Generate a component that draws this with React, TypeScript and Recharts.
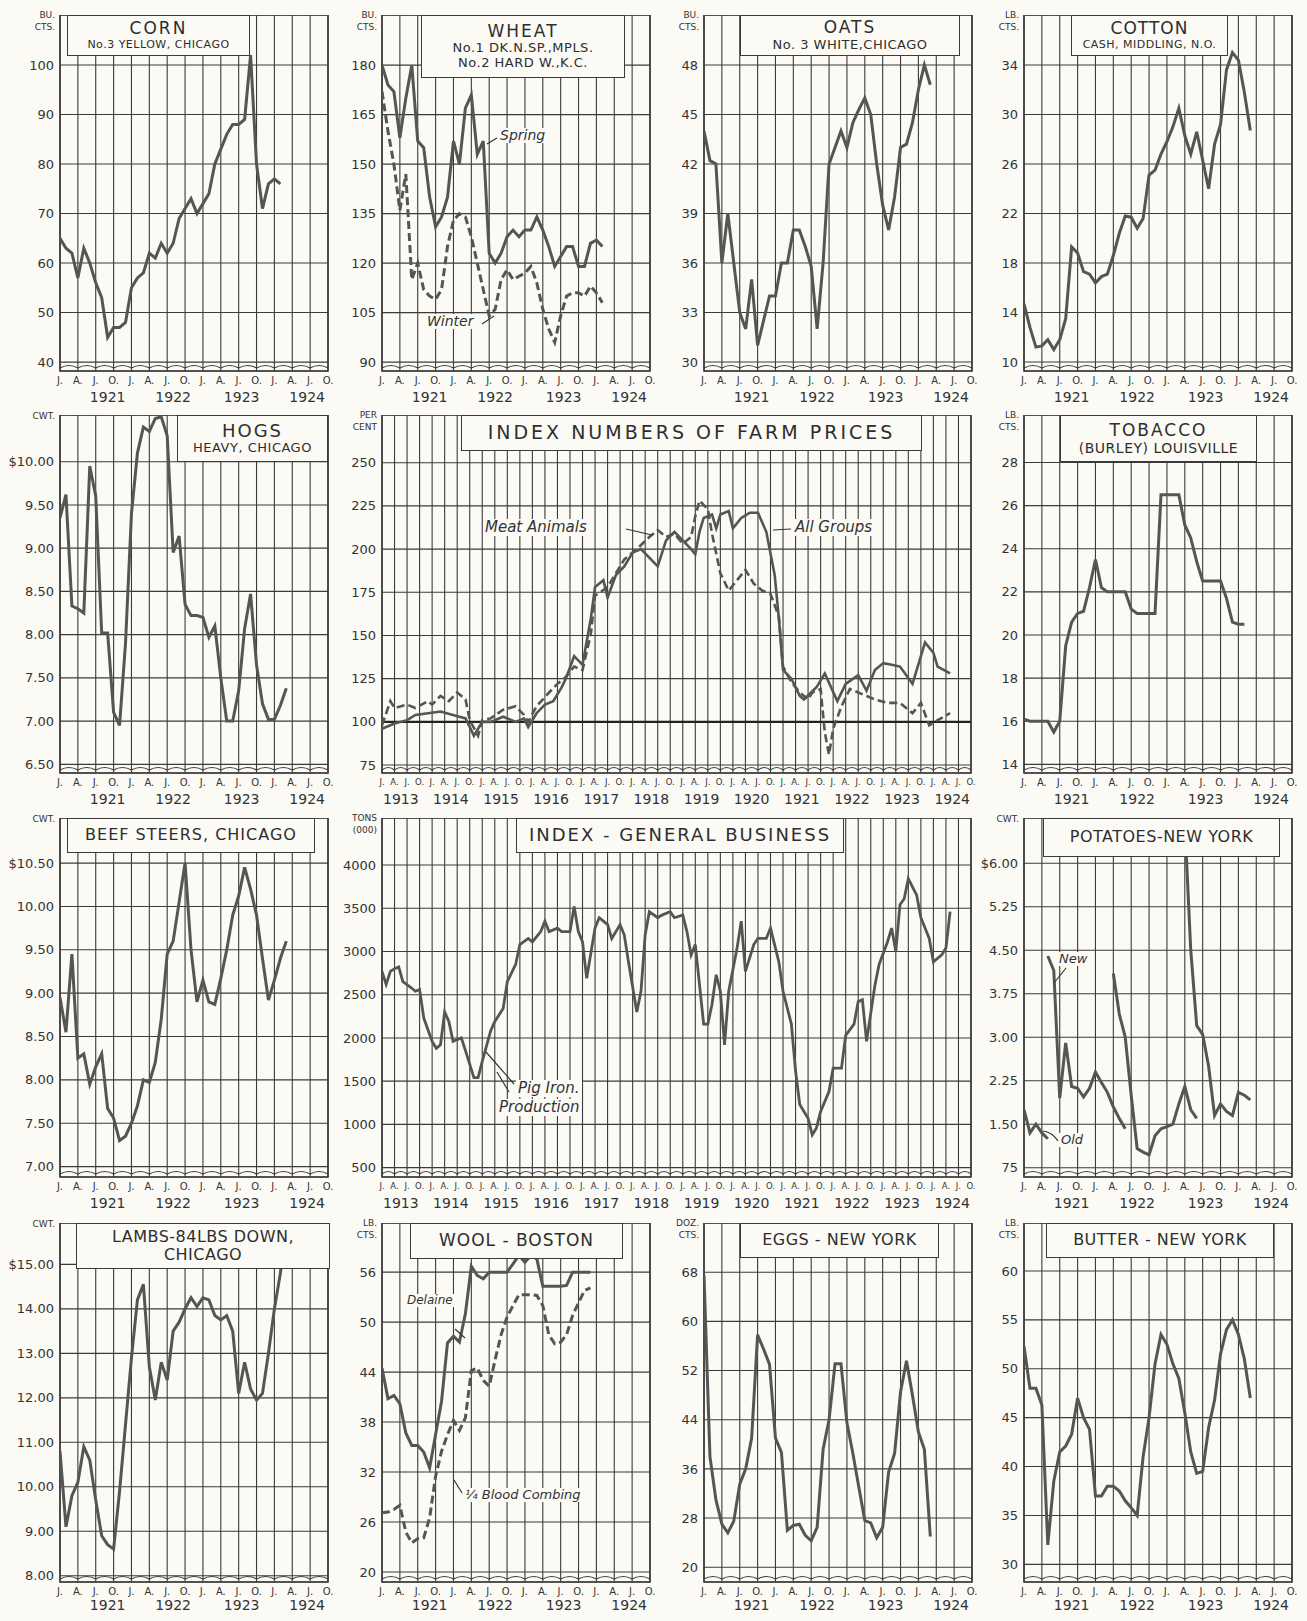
import React from "react";
import { LineChart, Line, XAxis, YAxis, CartesianGrid, ReferenceArea, ReferenceLine } from "recharts";

// ---- shared axis labels ----
const MONTH_LETTERS = ["J.", "A.", "J.", "O."];
const SHORT_YEARS = ["1921", "1922", "1923", "1924"];
const SHORT_YEAR_POS = [8, 19, 30.5, 41.5];
const LONG_YEARS = ["1913", "1914", "1915", "1916", "1917", "1918", "1919", "1920", "1921", "1922", "1923", "1924"];
const LONG_YEAR_POS = [4.5, 16.5, 28.5, 40.5, 52.5, 64.5, 76.5, 88.5, 100.5, 112.5, 124.5, 136.5];

// ---- small panels: monthly values from Jan 1921 ----
const cornValues = [65, 63, 62, 57, 63, 60, 56, 53, 45, 47, 47, 48, 55, 57, 58, 62, 61, 64, 62, 64, 69, 71, 73, 70, 72, 74, 80, 83, 86, 88, 88, 89, 102, 80, 71, 76, 77, 76];
const cornTicks = [40, 50, 60, 70, 80, 90, 100];
const cornLabels = ["40", "50", "60", "70", "80", "90", "100"];

const wheatSpring = [180, 174, 172, 158, 170, 180, 157, 155, 140, 131, 134, 140, 157, 150, 167, 171, 153, 157, 123, 120, 123, 128, 130, 128, 130, 130, 134, 130, 125, 119, 122, 125, 125, 119, 119, 126, 127, 125];
const wheatWinter = [172, 160, 150, 136, 147, 115, 120, 112, 110, 109, 112, 125, 133, 135, 134, 128, 120, 112, 104, 106, 115, 118, 115, 116, 117, 119, 114, 106, 100, 96, 104, 110, 111, 111, 110, 113, 111, 108];
const wheatTicks = [90, 105, 120, 135, 150, 165, 180];
const wheatLabels = ["90", "105", "120", "135", "150", "165", "180"];

const oatsValues = [44, 42.2, 42, 36, 39, 36, 33, 32, 35, 31, 32.5, 34, 34, 36, 36, 38, 38, 37, 35.8, 32, 36, 42, 43, 44, 43, 44.5, 45.3, 46, 45, 42, 39.5, 38, 40, 43, 43.2, 44.5, 46.5, 48, 46.8];
const oatsTicks = [30, 33, 36, 39, 42, 45, 48];
const oatsLabels = ["30", "33", "36", "39", "42", "45", "48"];

const cottonValues = [14.7, 12.8, 11.2, 11.3, 11.8, 11.0, 11.8, 13.5, 19.3, 18.8, 17.3, 17.1, 16.4, 16.9, 17.1, 18.6, 20.4, 21.8, 21.7, 20.8, 21.6, 25.1, 25.5, 26.8, 27.8, 29, 30.5, 28.3, 26.8, 28.6, 26.3, 24, 27.6, 29.2, 33.6, 35, 34.4, 31.8, 28.7];
const cottonTicks = [10, 14, 18, 22, 26, 30, 34];
const cottonLabels = ["10", "14", "18", "22", "26", "30", "34"];

const hogsValues = [9.35, 9.62, 8.33, 8.3, 8.25, 9.95, 9.6, 8.02, 8.02, 7.1, 6.95, 7.9, 9.4, 10.1, 10.4, 10.35, 10.5, 10.52, 10.3, 8.95, 9.14, 8.35, 8.22, 8.22, 8.2, 7.97, 8.1, 7.5, 7.0, 7.0, 7.35, 8.07, 8.47, 7.65, 7.2, 7.02, 7.02, 7.18, 7.38];
const hogsTicks = [6.5, 7, 7.5, 8, 8.5, 9, 9.5, 10];
const hogsLabels = ["6.50", "7.00", "7.50", "8.00", "8.50", "9.00", "9.50", "$10.00"];

const tobaccoValues = [16.1, 16, 16, 16, 16, 15.5, 16, 19.5, 20.6, 21, 21.1, 22.2, 23.5, 22.2, 22, 22, 22, 22, 21.2, 21, 21, 21, 21, 26.5, 26.5, 26.5, 26.5, 25.1, 24.5, 23.4, 22.5, 22.5, 22.5, 22.5, 21.7, 20.6, 20.5, 20.5];
const tobaccoTicks = [14, 16, 18, 20, 22, 24, 26, 28];
const tobaccoLabels = ["14", "16", "18", "20", "22", "24", "26", "28"];

const beefValues = [8.95, 8.55, 9.45, 8.25, 8.3, 7.95, 8.15, 8.3, 7.67, 7.56, 7.3, 7.35, 7.5, 7.7, 8.0, 7.97, 8.2, 8.7, 9.45, 9.6, 10.05, 10.5, 9.5, 8.9, 9.15, 8.9, 8.87, 9.17, 9.5, 9.9, 10.12, 10.45, 10.2, 9.9, 9.4, 8.92, 9.15, 9.4, 9.6];
const beefTicks = [7, 7.5, 8, 8.5, 9, 9.5, 10, 10.5];
const beefLabels = ["7.00", "7.50", "8.00", "8.50", "9.00", "9.50", "10.00", "$10.50"];

const potatoOld = [1.75, 1.35, 1.5, 1.35, 1.25];
const potatoNew1921 = [4.4, 4.15, 1.95, 2.9, 2.15, 2.12, 1.97, 2.12, 2.4, 2.22, 2.05, 1.8, 1.6, 1.42];
const potatoNew1922 = [4.1, 3.4, 3.0, 2.0, 1.08, 1.02, 0.97, 1.3, 1.42, 1.46, 1.5, 1.85, 2.15, 1.75, 1.6];
const potatoNew1923 = [6.7, 4.5, 3.2, 3.05, 2.5, 1.65, 1.85, 1.72, 1.65, 2.05, 2.0, 1.92];
const potatoTicks = [0.75, 1.5, 2.25, 3, 3.75, 4.5, 5.25, 6];
const potatoLabels = ["75", "1.50", "2.25", "3.00", "3.75", "4.50", "5.25", "$6.00"];

const lambsValues = [10.8, 9.1, 9.8, 10.1, 10.9, 10.6, 9.7, 8.9, 8.7, 8.6, 9.9, 11.4, 12.9, 14.2, 14.55, 12.7, 11.95, 12.8, 12.4, 13.5, 13.7, 14.0, 14.25, 14.05, 14.25, 14.2, 13.85, 13.75, 13.85, 13.5, 12.1, 12.8, 12.2, 11.95, 12.1, 13.0, 14.0, 14.8, 15.9];
const lambsTicks = [8, 9, 10, 11, 12, 13, 14, 15];
const lambsLabels = ["8.00", "9.00", "10.00", "11.00", "12.00", "13.00", "14.00", "$15.00"];

const woolDelaine = [44.5, 40.8, 41.2, 40.2, 36.7, 35.2, 35.2, 34.4, 32.5, 36.5, 40.5, 47.5, 48.3, 47.6, 51.0, 56.7, 55.6, 55.2, 56, 56, 56, 56, 57, 58, 57.2, 58, 57.6, 54.3, 54.3, 54.3, 54.3, 54.4, 56, 56, 56, 56];
const woolBlood = [27.1, 27.2, 27.5, 28.0, 24.8, 23.5, 24, 24.1, 26.5, 31.5, 34.5, 36.5, 38.2, 37, 38.5, 44.2, 44.5, 43, 42.3, 45.5, 48.5, 50.6, 52, 53.3, 53.3, 53.3, 53.2, 52, 48.5, 47.4, 47.6, 48.5, 50.8, 52.3, 53.8, 54.1];
const woolTicks = [20, 26, 32, 38, 44, 50, 56];
const woolLabels = ["20", "26", "32", "38", "44", "50", "56"];

const eggsValues = [67.5, 38, 31, 27, 25.6, 27.5, 33.5, 36, 41, 57.8, 55.5, 53, 41, 38.7, 26, 26.8, 27, 25.2, 24.3, 26.5, 39.2, 44, 53.1, 53.1, 43.5, 38.5, 33, 27.6, 27.2, 24.8, 26.5, 35.5, 38.5, 48.5, 53.6, 48, 42, 39.2, 25];
const eggsTicks = [20, 28, 36, 44, 52, 60, 68];
const eggsLabels = ["20", "28", "36", "44", "52", "60", "68"];

const butterValues = [52.3, 48, 48, 46.3, 32, 38.5, 41.5, 42.1, 43.3, 47, 45, 43.8, 37, 37, 38, 38, 37.5, 36.5, 35.8, 35, 41, 45, 50.5, 53.5, 52.5, 50.5, 49, 45.5, 41.5, 39.3, 39.5, 44, 46.8, 51.5, 54, 55, 53.5, 51, 47];
const butterTicks = [30, 35, 40, 45, 50, 55, 60];
const butterLabels = ["30", "35", "40", "45", "50", "55", "60"];

// ---- big panels: month index from Jan 1913 ----
const allGroupsMonths = [0, 3, 6, 8, 11, 14, 17, 20, 21, 22, 24, 26, 29, 32, 34, 35, 37, 39, 41, 43, 44, 46, 48, 50, 51, 53, 54, 56, 58, 60, 62, 66, 68, 70, 72, 74, 75, 76, 77, 79, 80, 81, 83, 84, 86, 88, 90, 92, 94, 95, 96, 98, 100, 101, 104, 106, 109, 111, 114, 116, 118, 120, 122, 124, 127, 129, 130, 132, 133, 136];
const allGroupsValues = [96, 99, 101, 104, 105, 106, 104, 102, 97, 92, 100, 100, 103, 100, 102, 97, 105, 110, 112, 120, 125, 138, 133, 160, 178, 182, 172, 185, 190, 198, 200, 190, 205, 210, 205, 200, 197, 210, 218, 220, 212, 220, 222, 212, 218, 221, 221, 210, 185, 160, 130, 125, 115, 113, 120, 128, 112, 122, 127, 118, 130, 134, 133, 132, 122, 138, 146, 140, 132, 128];
const meatMonths = [0, 2, 3, 6, 8, 11, 12, 14, 16, 18, 20, 21, 23, 24, 26, 29, 32, 34, 35, 37, 40, 42, 44, 46, 48, 50, 51, 54, 56, 58, 61, 64, 66, 68, 70, 72, 74, 75, 76, 78, 79, 81, 83, 85, 87, 89, 91, 93, 95, 96, 98, 100, 102, 103, 105, 106, 107, 108, 110, 112, 114, 116, 118, 121, 124, 126, 127, 129, 131, 133, 136];
const meatValues = [98, 112, 108, 110, 108, 112, 110, 115, 112, 117, 113, 101, 92, 101, 102, 107, 109, 104, 100, 109, 117, 122, 126, 132, 130, 151, 173, 178, 186, 194, 200, 207, 211, 207, 209, 203, 207, 219, 228, 223, 209, 186, 176, 182, 188, 180, 176, 174, 161, 132, 123, 117, 113, 117, 119, 94, 81, 96, 109, 119, 117, 115, 113, 111, 111, 107, 105, 111, 98, 101, 105];
const farmTicks = [75, 100, 125, 150, 175, 200, 225, 250];
const farmLabels = ["75", "100", "125", "150", "175", "200", "225", "250"];

const pigIronMonths = [0, 1, 2, 3, 4, 5, 7, 8, 9, 10, 12, 13, 14, 15, 16, 17, 19, 20, 22, 23, 24, 26, 27, 29, 30, 32, 33, 35, 36, 38, 39, 40, 42, 43, 45, 46, 47, 48, 49, 51, 52, 53, 54, 55, 57, 58, 59, 61, 62, 63, 64, 66, 67, 69, 70, 72, 73, 74, 75, 76, 77, 78, 79, 80, 81, 82, 83, 85, 86, 87, 89, 90, 92, 93, 95, 96, 98, 99, 100, 102, 103, 104, 105, 107, 108, 110, 111, 113, 114, 115, 116, 118, 119, 121, 122, 123, 124, 125, 126, 128, 129, 131, 132, 134, 135, 136];
const pigIronValues = [2770, 2620, 2770, 2800, 2820, 2650, 2580, 2540, 2560, 2230, 1960, 1880, 1920, 2300, 2190, 1960, 2000, 1850, 1540, 1540, 1730, 2080, 2190, 2340, 2650, 2850, 3080, 3150, 3110, 3230, 3350, 3230, 3270, 3230, 3230, 3520, 3230, 3110, 2690, 3270, 3390, 3350, 3310, 3150, 3310, 3190, 2880, 2300, 2540, 3190, 3460, 3390, 3420, 3460, 3390, 3420, 3230, 2960, 3080, 2620, 2160, 2160, 2390, 2730, 2540, 1920, 2540, 3040, 3350, 2770, 3080, 3150, 3150, 3270, 2880, 2540, 2160, 1620, 1230, 1070, 880, 960, 1150, 1380, 1650, 1650, 2030, 2160, 2420, 2440, 1960, 2610, 2850, 3110, 3270, 3000, 3540, 3610, 3840, 3650, 3390, 3150, 2880, 2960, 3040, 3460];
const businessTicks = [500, 1000, 1500, 2000, 2500, 3000, 3500, 4000];
const businessLabels = ["500", "1000", "1500", "2000", "2500", "3000", "3500", "4000"];

// ---- helpers ----
type Pt = { m: number; v: number };
type Series = { points: Pt[]; dashed?: boolean; width?: number };

const fromMonthly = (start: number, values: number[]): Pt[] => values.map((v, i) => ({ m: start + i, v }));
const fromPairs = (months: number[], values: number[]): Pt[] => months.map((m, i) => ({ m, v: values[i] }));

const INK = "#3b3b3b";
const LINE = "#555";
const BG = "#fbfaf5";
const FONT = "'DejaVu Sans', 'Liberation Sans', sans-serif";

// wavy "broken axis" line drawn just above the bottom edge
const makeWave = (period: number) => (p: any) => {
  const x1 = Number(p.x1);
  const x2 = Number(p.x2);
  const y = Number(p.y1) - 3;
  if (!isFinite(x1) || !isFinite(x2) || !isFinite(y)) return <g />;
  let d = `M${x1},${y}`;
  for (let x = x1; x < x2 - 0.5; x += period) {
    const xe = Math.min(x + period, x2);
    d += ` Q${(x + xe) / 2},${y - 5} ${xe},${y}`;
  }
  return <path d={d} fill="none" stroke={INK} strokeWidth={1.1} />;
};

type PanelProps = {
  left: number;
  top: number;
  plotW: number;
  plotH: number;
  xMax: number;
  yDomain: [number, number];
  yTicks: number[];
  yLabels: string[];
  series: Series[];
  yearPos: number[];
  yearLabels: string[];
  monthFont?: number;
  baseline?: number;
  yearMargin?: number;
};

function Panel({ left, top, plotW, plotH, xMax, yDomain, yTicks, yLabels, series, yearPos, yearLabels, monthFont = 10, baseline, yearMargin = 3 }: PanelProps) {
  const yAxisW = 62;
  const xTicks = Array.from({ length: xMax / 3 + 1 }, (_, i) => i * 3);
  const wave = makeWave(plotW / (xMax / 3));
  return (
    <div style={{ position: "absolute", left: left - yAxisW, top }}>
      <LineChart width={plotW + yAxisW + 14} height={plotH + 42} margin={{ top: 0, right: 14, left: 0, bottom: 0 }}>
        <CartesianGrid xAxisId="m" stroke={INK} strokeWidth={1.1} />
        <XAxis
          xAxisId="m"
          dataKey="m"
          type="number"
          domain={[0, xMax]}
          ticks={xTicks}
          interval={0}
          allowDataOverflow
          axisLine={false}
          tickLine={false}
          tickSize={0}
          tickMargin={6}
          height={18}
          tick={{ fontSize: monthFont, fill: "#333", fontFamily: FONT }}
          tickFormatter={(t: number) => MONTH_LETTERS[Math.round(t / 3) % 4]}
        />
        <XAxis
          xAxisId="yr"
          dataKey="m"
          type="number"
          domain={[0, xMax]}
          ticks={yearPos}
          interval={0}
          allowDataOverflow
          axisLine={false}
          tickLine={false}
          tickSize={0}
          tickMargin={yearMargin}
          height={24}
          tick={{ fontSize: 14, fill: "#333", fontFamily: FONT }}
          tickFormatter={(t: number) => yearLabels[yearPos.indexOf(t)] ?? ""}
        />
        <YAxis
          type="number"
          domain={yDomain}
          ticks={yTicks}
          interval={0}
          allowDataOverflow
          width={yAxisW}
          axisLine={false}
          tickLine={false}
          tickSize={0}
          tickMargin={6}
          tick={{ fontSize: 13, fill: "#333", fontFamily: FONT }}
          tickFormatter={(t: number) => yLabels[yTicks.indexOf(t)] ?? ""}
        />
        <ReferenceArea xAxisId="m" x1={0} x2={xMax} y1={yDomain[0]} y2={yDomain[1]} fill="none" stroke={INK} strokeWidth={1.6} ifOverflow="visible" />
        <ReferenceLine xAxisId="m" y={yDomain[0]} shape={wave} ifOverflow="visible" />
        {baseline !== undefined && <ReferenceLine xAxisId="m" y={baseline} stroke="#222" strokeWidth={2.2} />}
        {series.map((s, i) => (
          <Line
            key={i}
            xAxisId="m"
            data={s.points}
            dataKey="v"
            type="linear"
            stroke={LINE}
            strokeWidth={s.width ?? 3}
            strokeDasharray={s.dashed ? "8 4" : undefined}
            dot={false}
            isAnimationActive={false}
          />
        ))}
      </LineChart>
    </div>
  );
}

type TitleProps = { left: number; top: number; width: number; height: number; lines: { text: string; size: number; spacing?: number }[] };
function TitleBox({ left, top, width, height, lines }: TitleProps) {
  return (
    <div
      style={{
        position: "absolute",
        left,
        top,
        width,
        height,
        background: BG,
        border: `1.5px solid ${INK}`,
        boxSizing: "border-box",
        display: "flex",
        flexDirection: "column",
        justifyContent: "center",
        alignItems: "center",
        fontFamily: FONT,
        color: "#2e2e2e",
        lineHeight: 1.15,
        whiteSpace: "nowrap",
      }}
    >
      {lines.map((l, i) => (
        <div key={i} style={{ fontSize: l.size, letterSpacing: l.spacing ?? 0.5 }}>
          {l.text}
        </div>
      ))}
    </div>
  );
}

function Unit({ right, top, lines }: { right: number; top: number; lines: string[] }) {
  return (
    <div style={{ position: "absolute", left: right - 60, top, width: 60, textAlign: "right", fontFamily: FONT, fontSize: 9, lineHeight: 1.3, color: "#333" }}>
      {lines.map((l, i) => (
        <div key={i}>{l}</div>
      ))}
    </div>
  );
}

function Note({ left, top, text, size = 14 }: { left: number; top: number; text: string; size?: number }) {
  return (
    <div style={{ position: "absolute", left, top, fontFamily: FONT, fontStyle: "italic", fontSize: size, color: "#333", background: BG, padding: "0 2px", whiteSpace: "nowrap", lineHeight: 1.1 }}>
      {text}
    </div>
  );
}

const COLS = [60, 382, 704, 1024];
const SW = 268;
const BW = 589;
const ROWS = [
  { top: 15, h: 356 },
  { top: 415, h: 358 },
  { top: 818, h: 359 },
  { top: 1223, h: 359 },
];

export default function App() {
  const small = { plotW: SW, xMax: 45, yearPos: SHORT_YEAR_POS, yearLabels: SHORT_YEARS };
  const big = { plotW: BW, xMax: 141, yearPos: LONG_YEAR_POS, yearLabels: LONG_YEARS, monthFont: 8.5 };
  const last = { yearMargin: 0 };
  return (
    <div style={{ position: "absolute", left: 0, top: 0, width: 1307, height: 1621, background: BG, overflow: "hidden" }}>
      {/* row 1 */}
      <Panel {...small} left={COLS[0]} top={ROWS[0].top} plotH={ROWS[0].h} yDomain={[38.2, 110.1]} yTicks={cornTicks} yLabels={cornLabels} series={[{ points: fromMonthly(0, cornValues) }]} />
      <Panel {...small} left={COLS[1]} top={ROWS[0].top} plotH={ROWS[0].h} yDomain={[87.3, 195.2]} yTicks={wheatTicks} yLabels={wheatLabels} series={[{ points: fromMonthly(0, wheatWinter), dashed: true }, { points: fromMonthly(0, wheatSpring) }]} />
      <Panel {...small} left={COLS[2]} top={ROWS[0].top} plotH={ROWS[0].h} yDomain={[29.45, 51.03]} yTicks={oatsTicks} yLabels={oatsLabels} series={[{ points: fromMonthly(0, oatsValues) }]} />
      <Panel {...small} left={COLS[3]} top={ROWS[0].top} plotH={ROWS[0].h} yDomain={[9.27, 38.04]} yTicks={cottonTicks} yLabels={cottonLabels} series={[{ points: fromMonthly(0, cottonValues) }]} />
      {/* row 2 */}
      <Panel {...small} left={COLS[0]} top={ROWS[1].top} plotH={ROWS[1].h} yDomain={[6.4, 10.54]} yTicks={hogsTicks} yLabels={hogsLabels} series={[{ points: fromMonthly(0, hogsValues) }]} />
      <Panel {...big} left={COLS[1]} top={ROWS[1].top} plotH={ROWS[1].h} yDomain={[70.4, 277.6]} yTicks={farmTicks} yLabels={farmLabels} baseline={100} series={[{ points: fromPairs(meatMonths, meatValues), dashed: true, width: 2.6 }, { points: fromPairs(allGroupsMonths, allGroupsValues), width: 2.6 }]} />
      <Panel {...small} left={COLS[3]} top={ROWS[1].top} plotH={ROWS[1].h} yDomain={[13.6, 30.2]} yTicks={tobaccoTicks} yLabels={tobaccoLabels} series={[{ points: fromMonthly(0, tobaccoValues) }]} />
      {/* row 3 */}
      <Panel {...small} left={COLS[0]} top={ROWS[2].top} plotH={ROWS[2].h} yDomain={[6.88, 11.02]} yTicks={beefTicks} yLabels={beefLabels} series={[{ points: fromMonthly(0, beefValues) }]} />
      <Panel {...big} left={COLS[1]} top={ROWS[2].top} plotH={ROWS[2].h} yDomain={[392, 4543]} yTicks={businessTicks} yLabels={businessLabels} series={[{ points: fromPairs(pigIronMonths, pigIronValues), width: 2.8 }]} />
      <Panel
        {...small}
        left={COLS[3]}
        top={ROWS[2].top}
        plotH={ROWS[2].h}
        yDomain={[0.59, 6.78]}
        yTicks={potatoTicks}
        yLabels={potatoLabels}
        series={[
          { points: fromMonthly(0, potatoOld) },
          { points: fromMonthly(4, potatoNew1921) },
          { points: fromMonthly(15, potatoNew1922) },
          { points: fromMonthly(27, potatoNew1923) },
        ]}
      />
      {/* row 4 */}
      <Panel {...small} {...last} left={COLS[0]} top={ROWS[3].top} plotH={ROWS[3].h} yDomain={[7.86, 15.93]} yTicks={lambsTicks} yLabels={lambsLabels} series={[{ points: fromMonthly(0, lambsValues) }]} />
      <Panel {...small} {...last} left={COLS[1]} top={ROWS[3].top} plotH={ROWS[3].h} yDomain={[18.8, 61.9]} yTicks={woolTicks} yLabels={woolLabels} series={[{ points: fromMonthly(0, woolBlood), dashed: true }, { points: fromMonthly(0, woolDelaine) }]} />
      <Panel {...small} {...last} left={COLS[2]} top={ROWS[3].top} plotH={ROWS[3].h} yDomain={[17.6, 76]} yTicks={eggsTicks} yLabels={eggsLabels} series={[{ points: fromMonthly(0, eggsValues) }]} />
      <Panel {...small} {...last} left={COLS[3]} top={ROWS[3].top} plotH={ROWS[3].h} yDomain={[28.2, 64.9]} yTicks={butterTicks} yLabels={butterLabels} series={[{ points: fromMonthly(0, butterValues) }]} />

      {/* title boxes */}
      <TitleBox left={67} top={15} width={183} height={41} lines={[{ text: "CORN", size: 17, spacing: 2 }, { text: "No.3 YELLOW, CHICAGO", size: 11 }]} />
      <TitleBox left={421} top={15} width={204} height={63} lines={[{ text: "WHEAT", size: 17, spacing: 2 }, { text: "No.1 DK.N.SP.,MPLS.", size: 13 }, { text: "No.2 HARD W.,K.C.", size: 13 }]} />
      <TitleBox left={740} top={15} width={220} height={41} lines={[{ text: "OATS", size: 17, spacing: 2 }, { text: "No. 3 WHITE,CHICAGO", size: 13 }]} />
      <TitleBox left={1071} top={15} width={157} height={41} lines={[{ text: "COTTON", size: 17, spacing: 1 }, { text: "CASH, MIDDLING, N.O.", size: 11 }]} />
      <TitleBox left={177} top={415} width={151} height={47} lines={[{ text: "HOGS", size: 18, spacing: 2 }, { text: "HEAVY, CHICAGO", size: 13 }]} />
      <TitleBox left={461} top={415} width={461} height={36} lines={[{ text: "INDEX NUMBERS OF FARM PRICES", size: 19, spacing: 3 }]} />
      <TitleBox left={1060} top={415} width={197} height={47} lines={[{ text: "TOBACCO", size: 17, spacing: 2 }, { text: "(BURLEY) LOUISVILLE", size: 14 }]} />
      <TitleBox left={67} top={818} width={248} height={35} lines={[{ text: "BEEF STEERS, CHICAGO", size: 16, spacing: 1 }]} />
      <TitleBox left={516} top={818} width={328} height={35} lines={[{ text: "INDEX - GENERAL BUSINESS", size: 18, spacing: 2 }]} />
      <TitleBox left={1043} top={818} width={237} height={39} lines={[{ text: "POTATOES-NEW YORK", size: 16, spacing: 0.5 }]} />
      <TitleBox left={76} top={1223} width={254} height={46} lines={[{ text: "LAMBS-84LBS DOWN,", size: 16, spacing: 0.5 }, { text: "CHICAGO", size: 16, spacing: 0.5 }]} />
      <TitleBox left={410} top={1223} width={213} height={36} lines={[{ text: "WOOL - BOSTON", size: 17, spacing: 1 }]} />
      <TitleBox left={740} top={1223} width={199} height={35} lines={[{ text: "EGGS - NEW YORK", size: 16, spacing: 0.5 }]} />
      <TitleBox left={1046} top={1223} width={228} height={35} lines={[{ text: "BUTTER - NEW YORK", size: 16, spacing: 0.5 }]} />

      {/* unit labels */}
      <Unit right={COLS[0] - 5} top={10} lines={["BU.", "CTS."]} />
      <Unit right={COLS[1] - 5} top={10} lines={["BU.", "CTS."]} />
      <Unit right={COLS[2] - 5} top={10} lines={["BU.", "CTS."]} />
      <Unit right={COLS[3] - 5} top={10} lines={["LB.", "CTS."]} />
      <Unit right={COLS[0] - 5} top={411} lines={["CWT."]} />
      <Unit right={COLS[1] - 5} top={410} lines={["PER", "CENT"]} />
      <Unit right={COLS[3] - 5} top={410} lines={["LB.", "CTS."]} />
      <Unit right={COLS[0] - 5} top={814} lines={["CWT."]} />
      <Unit right={COLS[1] - 5} top={813} lines={["TONS", "(000)"]} />
      <Unit right={COLS[3] - 5} top={814} lines={["CWT."]} />
      <Unit right={COLS[0] - 5} top={1219} lines={["CWT."]} />
      <Unit right={COLS[1] - 5} top={1218} lines={["LB.", "CTS."]} />
      <Unit right={COLS[2] - 5} top={1218} lines={["DOZ.", "CTS."]} />
      <Unit right={COLS[3] - 5} top={1218} lines={["LB.", "CTS."]} />

      {/* annotations */}
      <Note left={498} top={128} text="Spring" />
      <Note left={425} top={314} text="Winter" />
      <Note left={483} top={519} text="Meat Animals" size={15} />
      <Note left={793} top={519} text="All Groups" size={15} />
      <Note left={516} top={1080} text="Pig Iron." size={15} />
      <Note left={497} top={1099} text="Production" size={15} />
      <Note left={1057} top={952} text="New" size={13} />
      <Note left={1059} top={1133} text="Old" size={13} />
      <Note left={405} top={1294} text="Delaine" size={12} />
      <Note left={463} top={1488} text="¼ Blood Combing" size={13} />
      <svg width={1307} height={1621} style={{ position: "absolute", left: 0, top: 0, pointerEvents: "none" }}>
        <g stroke="#333" strokeWidth={1.2} fill="none">
          <path d="M497,138 L487,144" />
          <path d="M482,324 L494,316" />
          <path d="M626,529 L652,535" />
          <path d="M791,529 L773,530" />
          <path d="M514,1084 L486,1052" />
          <path d="M509,1092 L497,1072" />
          <path d="M1066,968 L1054,983" />
          <path d="M1058,1141 Q1052,1132 1043,1131" />
          <path d="M455,1329 L465,1338" />
          <path d="M462,1493 L454,1480" />
        </g>
      </svg>
    </div>
  );
}
